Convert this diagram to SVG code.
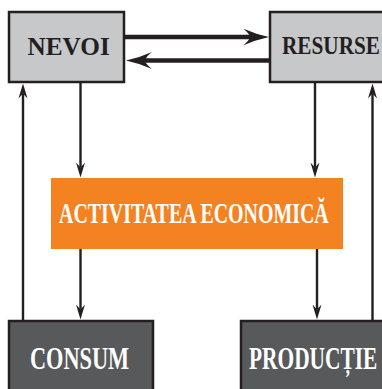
<svg xmlns="http://www.w3.org/2000/svg" width="382" height="389" viewBox="0 0 382 389">
<style>
.box{stroke:#231f20;stroke-width:2.5}
.light{fill:#c7c8ca}
.dark{fill:#58595b}
.lbl{font-family:"Liberation Serif","Times New Roman",serif;font-weight:bold}
.blk{fill:#231f20}
.wht{fill:#ffffff}
.thick{stroke:#231f20;stroke-width:4.5;fill:none}
.thin{stroke:#231f20;stroke-width:2.4;fill:none}
</style>
<defs>
<marker id="bigHead" markerUnits="userSpaceOnUse" viewBox="-26 -8.5 26 17" markerWidth="26" markerHeight="17" refX="-19" refY="0" orient="auto">
<path d="M0,0 Q-14,-3 -26,-8.5 Q-20,-4 -19,0 Q-20,4 -26,8.5 Q-14,3 0,0 Z" fill="#231f20"/>
</marker>
<marker id="smallHead" markerUnits="userSpaceOnUse" viewBox="-15 -5 15 10" markerWidth="15" markerHeight="10" refX="-10" refY="0" orient="auto">
<path d="M0,0 L-15,-4.5 L-10,0 L-15,4.5 Z" fill="#231f20"/>
</marker>
</defs>
<g id="nevoi">
<rect class="box light" x="9" y="12" width="115" height="70"/>
<text class="lbl blk" transform="translate(27.5,54.5) scale(1.01,1)" font-size="25">NEVOI</text>
</g>
<g id="resurse">
<rect class="box light" x="270" y="12" width="130" height="70"/>
<text class="lbl blk" transform="translate(282,53.5) scale(0.85,1)" font-size="25">RESURSE</text>
</g>
<g id="activitatea">
<rect x="51" y="178" width="292" height="71" fill="#f58220"/>
<text class="lbl wht" transform="translate(59,223) scale(0.687,1)" font-size="29">ACTIVITATEA ECONOMICĂ</text>
</g>
<g id="consum">
<rect class="box dark" x="9" y="321" width="144" height="80"/>
<text class="lbl wht" transform="translate(30,369) scale(0.72,1)" font-size="31">CONSUM</text>
</g>
<g id="productie">
<rect class="box dark" x="241" y="321" width="160" height="80"/>
<text class="lbl wht" transform="translate(249,369) scale(0.69,1)" font-size="31">PRODUCȚIE</text>
</g>
<g id="connectors">
<line class="thick" x1="125" y1="37" x2="250" y2="37" marker-end="url(#bigHead)"/>
<line class="thick" x1="269" y1="60.5" x2="145" y2="60.5" marker-end="url(#bigHead)"/>
<line class="thin" x1="23" y1="320" x2="23" y2="93.5" marker-end="url(#smallHead)"/>
<line class="thin" x1="80.5" y1="83" x2="80.5" y2="167.5" marker-end="url(#smallHead)"/>
<line class="thin" x1="80.5" y1="249" x2="80.5" y2="309.5" marker-end="url(#smallHead)"/>
<line class="thin" x1="315" y1="83" x2="315" y2="167.5" marker-end="url(#smallHead)"/>
<line class="thin" x1="317" y1="249" x2="317" y2="309.5" marker-end="url(#smallHead)"/>
<line class="thin" x1="372.5" y1="320" x2="372.5" y2="93.5" marker-end="url(#smallHead)"/>
</g>
</svg>
